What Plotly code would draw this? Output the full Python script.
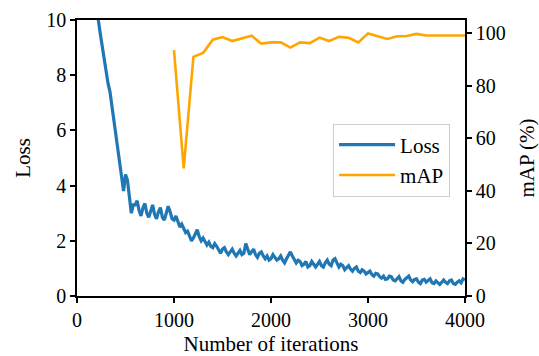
import plotly.graph_objects as go

# ---- data ----
loss_iters = list(range(200, 4001, 20))
loss_values = [
    10.9, 10.0, 9.5, 9.0, 8.6, 8.1, 7.7, 7.4, 6.9, 6.5,          # 200-380
    5.9, 5.3, 5.0, 4.5, 3.8, 4.4, 4.2, 3.6, 3.0, 3.3,            # 400-580
    3.3, 3.45, 3.1, 2.9, 3.2, 3.35, 3.0, 2.85, 3.1, 3.3,         # 600-780
    2.95, 2.8, 3.05, 3.2, 2.85, 2.75, 3.0, 3.25, 3.05, 2.8,      # 800-980
    2.75, 2.9, 2.7, 2.5, 2.6, 2.45, 2.3, 2.35, 2.15, 2.0,        # 1000-1180
    2.1, 2.25, 2.4, 2.15, 2.0, 2.1, 2.0, 1.85, 1.95, 1.8,        # 1200-1380
    1.75, 1.9, 1.8, 1.65, 1.55, 1.7, 1.75, 1.6, 1.5, 1.6,        # 1400-1580
    1.7, 1.55, 1.45, 1.55, 1.65, 1.5, 1.55, 1.9, 1.65, 1.5,      # 1600-1780
    1.6, 1.7, 1.5, 1.4, 1.55, 1.6, 1.45, 1.35, 1.45, 1.3,        # 1800-1980
    1.35, 1.5, 1.4, 1.3, 1.35, 1.45, 1.3, 1.2, 1.35, 1.45,       # 2000-2180
    1.6, 1.45, 1.3, 1.2, 1.3, 1.25, 1.1, 1.15, 1.25, 1.05,       # 2200-2380
    1.1, 1.25, 1.15, 1.05, 1.15, 1.25, 1.1, 1.05, 1.2, 1.3,      # 2400-2580
    1.15, 1.1, 1.3, 1.35, 1.2, 1.05, 1.15, 1.1, 0.95, 1.05,      # 2600-2780
    1.1, 0.98, 0.9, 1.0, 1.05, 0.9, 0.85, 0.95, 0.9, 0.8,        # 2800-2980
    0.85, 0.9, 0.78, 0.72, 0.82, 0.8, 0.7, 0.65, 0.72, 0.6,      # 3000-3180
    0.62, 0.72, 0.7, 0.58, 0.55, 0.65, 0.7, 0.55, 0.5, 0.6,      # 3200-3380
    0.65, 0.72, 0.58, 0.52, 0.6, 0.62, 0.5, 0.45, 0.58, 0.6,     # 3400-3580
    0.5, 0.55, 0.62, 0.48, 0.45, 0.55, 0.5, 0.42, 0.5, 0.58,     # 3600-3780
    0.5, 0.45, 0.55, 0.58, 0.45, 0.42, 0.5, 0.55, 0.48, 0.62,    # 3800-3980
    0.58,                                                         # 4000
]

map_iters = list(range(1000, 4001, 100))
map_values = [
    93.5, 48.5, 91.0, 92.5, 97.5, 98.5, 97.0, 98.0, 99.0, 96.0,
    96.5, 96.5, 94.5, 96.5, 96.2, 98.3, 97.0, 98.6, 98.2, 96.5,
    99.9, 98.8, 97.8, 98.8, 98.9, 99.7, 99.1, 99.1, 99.1, 99.1,
    99.1,
]

x_ticks = [0, 1000, 2000, 3000, 4000]
loss_ticks = [0, 2, 4, 6, 8, 10]
map_ticks = [0, 20, 40, 60, 80, 100]

FONT = "Liberation Serif, Times New Roman, serif"

fig = go.Figure()
fig.add_trace(go.Scatter(
    x=loss_iters, y=loss_values, name="Loss", mode="lines",
    line=dict(color="#1f77b4", width=3.2), yaxis="y",
))
fig.add_trace(go.Scatter(
    x=map_iters, y=map_values, name="mAP", mode="lines",
    line=dict(color="#ffa500", width=2.6), yaxis="y2",
))

axis_common = dict(
    showgrid=False, zeroline=False, showline=True, linecolor="black",
    linewidth=1.5, ticks="outside", ticklen=5, tickwidth=1.5, automargin=False,
    tickcolor="black", tickfont=dict(family=FONT, size=20, color="black"),
)

fig.update_layout(
    width=539, height=356,
    margin=dict(l=77, r=74, t=20, b=60),
    paper_bgcolor="white", plot_bgcolor="white",
    font=dict(family=FONT, size=20, color="black"),
    xaxis=dict(
        range=[0, 4000], tickvals=x_ticks, mirror=True,
        title=dict(text="Number of iterations", standoff=8,
                   font=dict(family=FONT, size=21)),
        **axis_common,
    ),
    yaxis=dict(
        range=[0, 10], tickvals=loss_ticks,
        title=dict(text="Loss", standoff=10, font=dict(family=FONT, size=21)),
        **axis_common,
    ),
    yaxis2=dict(
        range=[0, 105], tickvals=map_ticks, overlaying="y", side="right",
        title=dict(text="mAP (%)", standoff=16, font=dict(family=FONT, size=21)),
        **axis_common,
    ),
    legend=dict(
        x=0.66, y=0.625, xanchor="left", yanchor="top",
        bgcolor="rgba(255,255,255,0.9)", bordercolor="#cccccc", borderwidth=1,
        font=dict(family=FONT, size=21, color="black"),
        itemwidth=56, tracegroupgap=2,
    ),
    showlegend=True,
)

fig.write_html("out.html")
